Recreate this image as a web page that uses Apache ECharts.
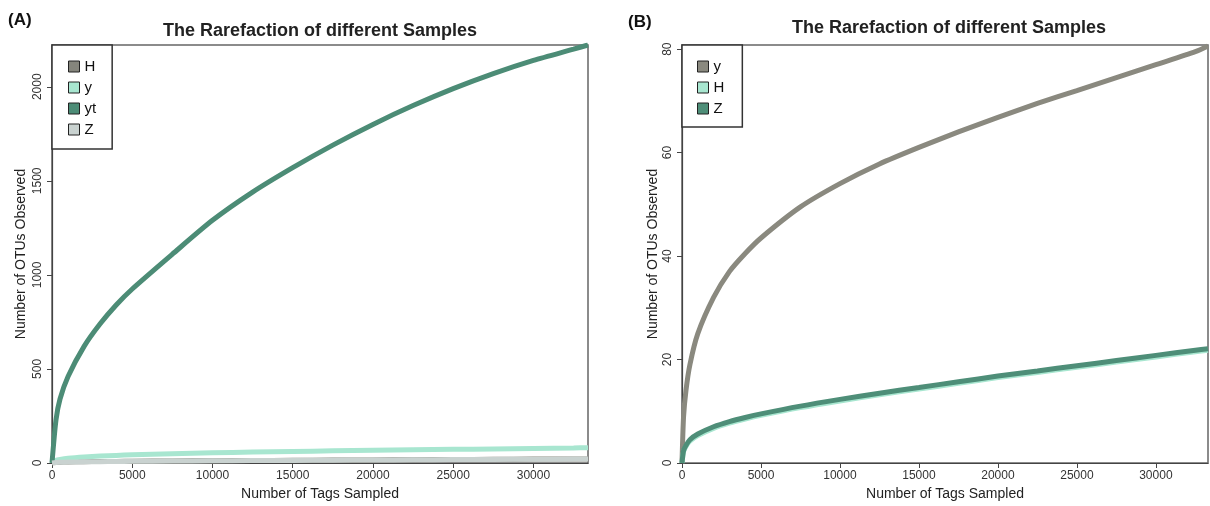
<!DOCTYPE html>
<html>
<head>
<meta charset="utf-8">
<script src="https://cdn.jsdelivr.net/npm/echarts@6/dist/echarts.min.js"></script>
<style>html,body{margin:0;padding:0;background:#fff}#c{width:1210px;height:506px}</style>
</head>
<body>
<div id="c"></div>
<script>
// ---- Panel A data ----
const tagsA = [0, 250, 500, 1000, 2000, 3000, 4000, 5000, 7500, 10000, 12500, 15000, 17500, 20000, 22500, 25000, 27500, 30000, 32500, 33400];
const A_H  = [0, 2.8, 4, 5.3, 6.8, 7.8, 8.6, 9.3, 10.8, 12.1, 13.3, 14.4, 15.5, 16.6, 17.6, 18.6, 19.6, 20.6, 21.6, 21.9];
const A_y  = [0, 14, 19, 25, 32, 37, 40.5, 43.5, 49.5, 54, 58, 61.5, 64.5, 67.5, 70, 72.5, 75, 77.5, 80, 81];
const A_yt = [0, 230, 340, 460, 620, 740, 840, 925, 1110, 1290, 1440, 1570, 1690, 1800, 1900, 1990, 2070, 2140, 2200, 2222];
const A_Z  = [0, 2.5, 3.6, 4.8, 6.2, 7.2, 8.0, 8.7, 10.2, 11.5, 12.7, 13.8, 14.9, 16.0, 17.0, 18.0, 19.0, 20.0, 21.0, 21.3];
const xTicksA = [0, 5000, 10000, 15000, 20000, 25000, 30000];
const yTicksA = [0, 500, 1000, 1500, 2000];

// ---- Panel B data ----
const tagsB = [0, 100, 250, 500, 1000, 2000, 3000, 4000, 5000, 7500, 10000, 12500, 15000, 17500, 20000, 22500, 25000, 27500, 30000, 32500, 33300];
const B_y = [0, 9, 14, 19, 25, 32, 37, 40.5, 43.5, 49.5, 54, 57.8, 61, 64, 66.8, 69.5, 72, 74.5, 77, 79.5, 80.6];
const B_H = [0, 2.2, 3.2, 4.2, 5.3, 6.7, 7.7, 8.5, 9.2, 10.7, 12, 13.2, 14.3, 15.4, 16.5, 17.5, 18.5, 19.5, 20.5, 21.5, 21.8];
const B_Z = [0, 2.4, 3.4, 4.5, 5.6, 7.0, 8.0, 8.8, 9.5, 11.0, 12.3, 13.5, 14.6, 15.7, 16.8, 17.8, 18.8, 19.8, 20.8, 21.8, 22.1];
const xTicksB = [0, 5000, 10000, 15000, 20000, 25000, 30000];
const yTicksB = [0, 20, 40, 60, 80];

const FONT = '"Liberation Sans", Arial, sans-serif';
const pairs = (xs, ys) => xs.map((x, i) => [x, ys[i]]);

function xAxisCfg(gridIndex, max, ticks) {
  return {
    type: 'value', gridIndex, min: 0, max,
    name: 'Number of Tags Sampled', nameLocation: 'middle', nameGap: 24,
    nameTextStyle: { fontFamily: FONT, fontSize: 14, color: '#222' },
    splitLine: { show: false },
    axisLine: { show: true, lineStyle: { color: '#444', width: 1.2 } },
    axisTick: { show: true, length: 5, lineStyle: { color: '#444' }, customValues: ticks },
    axisLabel: { fontFamily: FONT, fontSize: 12, color: '#333', margin: 7, customValues: ticks, formatter: v => String(v) }
  };
}
function yAxisCfg(gridIndex, max, ticks, nameGap) {
  return {
    type: 'value', gridIndex, min: 0, max,
    name: 'Number of OTUs Observed', nameLocation: 'middle', nameGap,
    nameTextStyle: { fontFamily: FONT, fontSize: 14, color: '#222' },
    splitLine: { show: false },
    axisLine: { show: true, lineStyle: { color: '#444', width: 1.2 } },
    axisTick: { show: true, length: 5, lineStyle: { color: '#444' }, customValues: ticks },
    axisLabel: { fontFamily: FONT, fontSize: 12, color: '#333', margin: 8, rotate: 90, customValues: ticks, formatter: v => String(v) }
  };
}
function lineSeries(name, xi, data, color) {
  return {
    name, type: 'line', xAxisIndex: xi, yAxisIndex: xi, data,
    showSymbol: false, symbol: 'none', smooth: 0.25,
    color, lineStyle: { color, width: 5 }, itemStyle: { color }, animation: false
  };
}
function legendCfg(names, left, pad) {
  return {
    data: names, orient: 'vertical', left, top: 45, icon: 'rect',
    itemWidth: 11, itemHeight: 11, itemGap: 6, itemTextGap: 11,
    padding: pad, backgroundColor: '#fff', borderColor: '#333', borderWidth: 1.5, borderRadius: 0,
    formatter: n => n.slice(2),
    itemStyle: { borderColor: '#222', borderWidth: 1 },
    textStyle: { fontFamily: FONT, fontSize: 15, color: '#111', lineHeight: 14 }
  };
}

const chart = echarts.init(document.getElementById('c'), null, { renderer: 'canvas' });
chart.setOption({
  animation: false,
  backgroundColor: '#fff',
  grid: [
    { left: 52, right: 622, top: 45, bottom: 41, show: true, borderColor: '#666', borderWidth: 1.5, backgroundColor: 'transparent' },
    { left: 682, right: 2, top: 45, bottom: 39, show: true, borderColor: '#666', borderWidth: 1.5, backgroundColor: 'transparent' }
  ],
  xAxis: [xAxisCfg(0, 33400, xTicksA), xAxisCfg(1, 33300, xTicksB)],
  yAxis: [yAxisCfg(0, 2222, yTicksA, 24), yAxisCfg(1, 80.8, yTicksB, 22)],
  legend: [
    legendCfg(['A-H', 'A-y', 'A-yt', 'A-Z'], 52, [14, 16, 12, 16]),
    legendCfg(['B-y', 'B-H', 'B-Z'], 682, [14, 18, 11, 15])
  ],
  series: [
    lineSeries('A-H', 0, pairs(tagsA, A_H), '#85857c'),
    lineSeries('A-y', 0, pairs(tagsA, A_y), '#a8e6d0'),
    lineSeries('A-yt', 0, pairs(tagsA, A_yt), '#4c8c76'),
    lineSeries('A-Z', 0, pairs(tagsA, A_Z), '#c9d2d0'),
    lineSeries('B-y', 1, pairs(tagsB, B_y), '#8a897f'),
    lineSeries('B-H', 1, pairs(tagsB, B_H), '#a8e6d0'),
    lineSeries('B-Z', 1, pairs(tagsB, B_Z), '#4e8e78')
  ],
  graphic: [
    { type: 'text', left: 8, top: 12, style: { text: '(A)', font: 'bold 17px ' + FONT, fill: '#111' } },
    { type: 'text', x: 320, y: 31, style: { text: 'The Rarefaction of different Samples', font: 'bold 18px ' + FONT, fill: '#222', textAlign: 'center', textVerticalAlign: 'middle' } },
    { type: 'text', left: 628, top: 14, style: { text: '(B)', font: 'bold 17px ' + FONT, fill: '#111' } },
    { type: 'text', x: 949, y: 28, style: { text: 'The Rarefaction of different Samples', font: 'bold 18px ' + FONT, fill: '#222', textAlign: 'center', textVerticalAlign: 'middle' } }
  ]
});
</script>
</body>
</html>
